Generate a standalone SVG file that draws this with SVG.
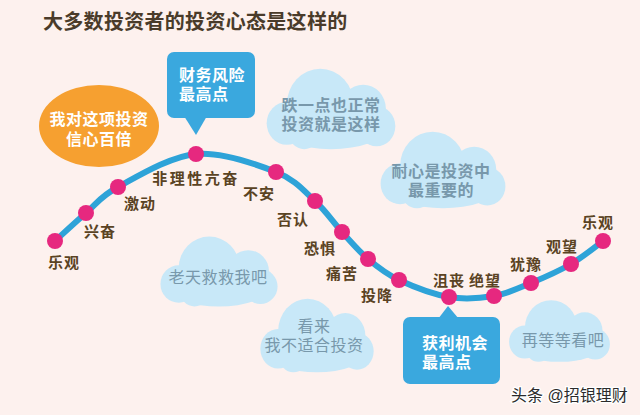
<svg xmlns="http://www.w3.org/2000/svg" xmlns:xlink="http://www.w3.org/1999/xlink" width="640" height="415" viewBox="0 0 640 415">
<style>
.title{font-family:"Liberation Sans","Noto Sans CJK SC",sans-serif;font-size:20px;font-weight:700;fill:#4a3b2a;letter-spacing:0.3px}
.lbl{font-family:"Liberation Sans","Noto Sans CJK SC",sans-serif;font-size:15px;font-weight:700;fill:#5a4323;text-anchor:middle;letter-spacing:1px}
.wt{font-family:"Liberation Sans","Noto Sans CJK SC",sans-serif;font-size:16px;font-weight:700;fill:#ffffff;letter-spacing:0.5px}
.cl{font-family:"Liberation Sans","Noto Sans CJK SC",sans-serif;font-size:16px;fill:#7898ab;text-anchor:middle;letter-spacing:0.5px}
.clb{font-weight:700}
.cloud{fill:#c8e8f8}
.dot{fill:#e6287f}
.curve{fill:none;stroke:#2ea3d8;stroke-width:6;stroke-linecap:round}
.callout{fill:#3aa8de}
.wm{font-family:"Liberation Sans","Noto Sans CJK SC",sans-serif;font-size:16px;fill:#2b2b2b;stroke:#ffffff;stroke-width:2.5px;paint-order:stroke}
</style>
<defs>
<symbol id="cloudShape" viewBox="0 0 100 60" preserveAspectRatio="none">
<g class="cloud">
<circle cx="42" cy="27" r="25"/>
<circle cx="74" cy="30" r="17"/>
<circle cx="84" cy="42" r="14"/>
<circle cx="17" cy="40" r="15"/>
<ellipse cx="50" cy="44" rx="40" ry="14"/>
<circle cx="30" cy="46" r="12"/>
</g>
</symbol>
</defs>
<rect width="640" height="415" fill="#fdf1ee"/>
<text class="title" x="43" y="29">大多数投资者的投资心态是这样的</text>

<g id="cloud-1">
<use xlink:href="#cloudShape" x="264" y="66" width="134" height="86"/>
<text class="cl clb" x="331" y="111">跌一点也正常</text>
<text class="cl clb" x="331" y="130">投资就是这样</text>
</g>
<g id="cloud-2">
<use xlink:href="#cloudShape" x="378" y="129" width="130" height="82"/>
<text class="cl clb" x="441" y="177">耐心是投资中</text>
<text class="cl clb" x="441" y="196">最重要的</text>
</g>
<g id="cloud-3">
<use xlink:href="#cloudShape" x="158" y="234" width="122" height="75"/>
<text class="cl" x="218" y="283">老天救救我吧</text>
</g>
<g id="cloud-4">
<use xlink:href="#cloudShape" x="258" y="296" width="118" height="79"/>
<text class="cl" x="314" y="332">看来</text>
<text class="cl" x="314" y="351">我不适合投资</text>
</g>
<g id="cloud-5">
<use xlink:href="#cloudShape" x="507" y="298" width="105" height="66"/>
<text class="cl" x="563" y="346">再等等看吧</text>
</g>

<g id="confidence">
<ellipse cx="99" cy="126" rx="60" ry="41" fill="#f6a030"/>
<text class="wt" x="99" y="125" text-anchor="middle">我对这项投资</text>
<text class="wt" x="99" y="145" text-anchor="middle">信心百倍</text>
</g>

<g id="risk-callout">
<rect class="callout" x="167" y="52" width="88" height="66" rx="7"/>
<polygon class="callout" points="184,116 207,116 196,135"/>
<text class="wt" x="179" y="81">财务风险</text>
<text class="wt" x="179" y="100">最高点</text>
</g>

<g id="profit-callout">
<rect class="callout" x="403" y="317" width="97" height="67" rx="7"/>
<polygon class="callout" points="438,319 459,319 448,306"/>
<text class="wt" x="422" y="349">获利机会</text>
<text class="wt" x="422" y="368">最高点</text>
</g>

<g id="connectors">
<path class="curve" d="M55,241 C60.2,236.3 75.5,222 86,213 C96.5,204 99.7,196.8 118,187 C136.3,177.2 169.7,156.5 196,154 C222.3,151.5 256.2,164.2 276,172 C295.8,179.8 304,191 315,201 C326,211 333.2,222.3 342,232 C350.8,241.7 358.5,251 368,259 C377.5,267 385.5,273.7 399,280 C412.5,286.3 433.2,294.3 449,297 C464.8,299.7 480.3,298.3 494,296 C507.7,293.7 518.2,288.3 531,283 C543.8,277.7 559,271 571,264 C583,257 597.7,244.8 603,241"/>
</g>

<g id="n-optimism-1"><circle class="dot" cx="55" cy="241" r="8"/><text class="lbl" x="64" y="268">乐观</text></g>
<g id="n-excited"><circle class="dot" cx="86" cy="213" r="8"/><text class="lbl" x="100" y="237">兴奋</text></g>
<g id="n-thrill"><circle class="dot" cx="118" cy="187" r="8"/><text class="lbl" x="140" y="209">激动</text></g>
<g id="n-euphoria"><circle class="dot" cx="196" cy="154" r="8"/><text class="lbl" x="196" y="184" style="letter-spacing:2.5px">非理性亢奋</text></g>
<g id="n-anxiety"><circle class="dot" cx="276" cy="172" r="8"/><text class="lbl" x="259" y="199">不安</text></g>
<g id="n-denial"><circle class="dot" cx="315" cy="201" r="8"/><text class="lbl" x="293" y="225">否认</text></g>
<g id="n-fear"><circle class="dot" cx="342" cy="232" r="8"/><text class="lbl" x="320" y="254">恐惧</text></g>
<g id="n-pain"><circle class="dot" cx="368" cy="259" r="8"/><text class="lbl" x="342" y="279">痛苦</text></g>
<g id="n-capitulation"><circle class="dot" cx="399" cy="280" r="8"/><text class="lbl" x="377" y="301">投降</text></g>
<g id="n-despondency"><circle class="dot" cx="449" cy="297" r="8"/><text class="lbl" x="449" y="286">沮丧</text></g>
<g id="n-despair"><circle class="dot" cx="494" cy="296" r="8"/><text class="lbl" x="485" y="286">绝望</text></g>
<g id="n-hesitation"><circle class="dot" cx="531" cy="283" r="8"/><text class="lbl" x="526" y="270">犹豫</text></g>
<g id="n-wait"><circle class="dot" cx="571" cy="264" r="8"/><text class="lbl" x="562" y="252">观望</text></g>
<g id="n-optimism-2"><circle class="dot" cx="603" cy="241" r="8"/><text class="lbl" x="598" y="228">乐观</text></g>

<text class="wm" x="511" y="401">头条 @招银理财</text>
</svg>
